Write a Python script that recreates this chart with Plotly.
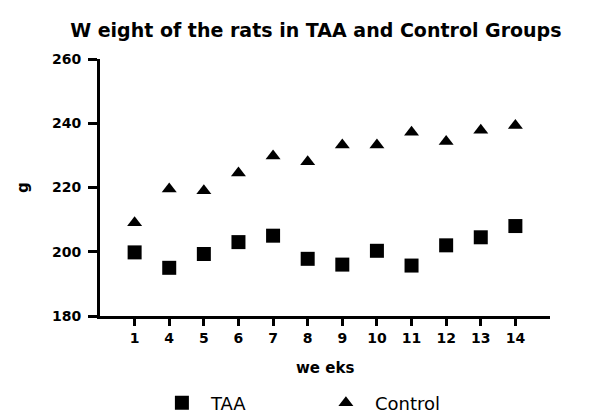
import plotly.graph_objects as go

weeks = ["1", "4", "5", "6", "7", "8", "9", "10", "11", "12", "13", "14"]
taa = [199.8, 195.0, 199.3, 203.0, 205.0, 197.8, 196.0, 200.3, 195.7, 202.0, 204.5, 208.0]
control = [209.0, 219.5, 219.0, 224.5, 229.8, 228.0, 233.2, 233.2, 237.2, 234.3, 237.8, 239.3]
y_ticks = [180, 200, 220, 240, 260]

FONT = "DejaVu Sans, Liberation Sans, Arial, sans-serif"
W, H = 592, 407  # page body has an 8px margin

fig = go.Figure()
fig.add_trace(go.Scatter(x=weeks, y=taa, mode="markers", name="TAA",
                         marker=dict(symbol="square", size=14, color="black")))
fig.add_trace(go.Scatter(x=weeks, y=control, mode="markers", name="Control",
                         marker=dict(symbol="triangle-up", size=13, color="black")))

fig.update_layout(
    width=W, height=H,
    margin=dict(l=92, r=50, t=51, b=99, autoexpand=False),
    paper_bgcolor="white", plot_bgcolor="white",
    title=dict(text="W eight of the rats in TAA and Control Groups",
               x=0.52, xanchor="center", yref="container", y=1 - 22 / H, yanchor="middle",
               font=dict(family=FONT, size=19, color="black", weight="bold")),
    showlegend=True,
    legend=dict(orientation="h", x=0.482, xanchor="center",
                yref="container", y=12 / H, yanchor="middle",
                font=dict(family=FONT, size=18, color="black"),
                itemwidth=48, entrywidth=101, entrywidthmode="pixels", tracegroupgap=0),
    font=dict(family=FONT, color="black"),
    annotations=[
        dict(text="we eks", xref="paper", yref="paper", x=0.5, y=-0.2023,
             xanchor="center", yanchor="middle", showarrow=False,
             font=dict(family=FONT, size=15, color="black", weight="bold")),
        dict(text="g", xref="paper", yref="paper", x=-0.171, y=0.498,
             xanchor="center", yanchor="middle", showarrow=False, textangle=-90,
             font=dict(family=FONT, size=15, color="black", weight="bold")),
    ],
)
fig.update_xaxes(
    type="category", range=[-1, 12], automargin=False,
    showline=True, linecolor="black", linewidth=3,
    ticks="outside", ticklen=7, tickwidth=3, tickcolor="black",
    showgrid=False, zeroline=False,
    tickfont=dict(family=FONT, size=14, color="black", weight="bold"),
)
fig.update_yaxes(
    range=[180, 260], tickvals=y_ticks, automargin=False,
    showline=True, linecolor="black", linewidth=3,
    ticks="outside", ticklen=9, tickwidth=3, tickcolor="black",
    ticklabelstandoff=4,
    showgrid=False, zeroline=False,
    tickfont=dict(family=FONT, size=14, color="black", weight="bold"),
)

fig.write_html("out.html")
